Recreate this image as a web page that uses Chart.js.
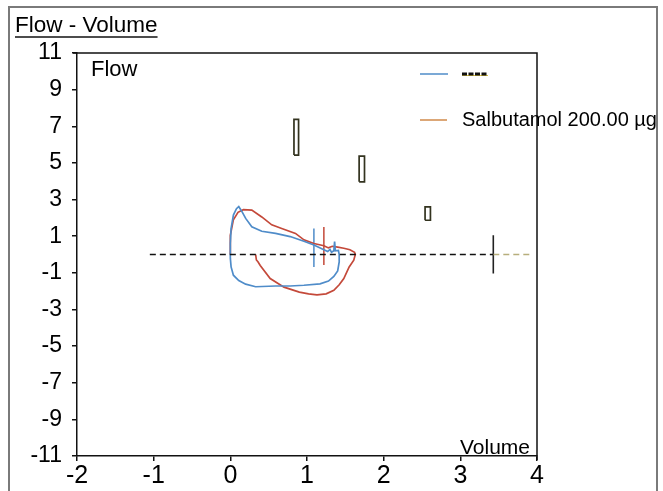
<!DOCTYPE html>
<html><head><meta charset="utf-8">
<script src="https://cdn.jsdelivr.net/npm/chart.js@4"></script>
<style>html,body{margin:0;padding:0;background:#fff;}#wrap{width:663px;height:491px;position:relative;}</style>
</head><body><div id="wrap"><canvas id="c" width="663" height="491"></canvas></div>
<script>
// ---- data ----
const xTicks = [-2, -1, 0, 1, 2, 3, 4];
const yTicks = [11, 9, 7, 5, 3, 1, -1, -3, -5, -7, -9, -11];

const chartTitle = 'Flow - Volume';
const yLabel = 'Flow';
const xLabel = 'Volume';
const legendLabel = 'Salbutamol 200.00 µg';

// baseline loop (blue)
const blueVolume = [0.00,0.00,0.01,0.04,0.08,0.11,0.15,0.20,0.28,0.41,0.59,0.78,0.96,1.09,1.22,1.27,1.30,1.32,1.35,1.36,1.37,1.41,1.42,1.42,1.40,1.35,1.28,1.17,0.96,0.78,0.59,0.33,0.20,0.11,0.04,0.01,0.00,0.00];
const blueFlow   = [0.00,0.60,1.42,2.15,2.50,2.62,2.35,1.97,1.51,1.27,1.15,0.98,0.72,0.52,0.26,0.16,0.28,0.12,0.20,0.70,0.20,0.22,0.00,-0.40,-0.90,-1.20,-1.45,-1.60,-1.68,-1.72,-1.72,-1.76,-1.62,-1.42,-1.13,-0.68,-0.20,0.00];

// post-salbutamol loop (red)
const redVolume = [0.00,0.00,0.04,0.10,0.17,0.28,0.41,0.54,0.67,0.85,0.96,1.09,1.22,1.28,1.33,1.40,1.48,1.56,1.62,1.63,1.61,1.55,1.48,1.42,1.35,1.25,1.13,1.02,0.90,0.70,0.52,0.39,0.36,0.34,0.33];
const redFlow   = [0.00,1.05,1.90,2.30,2.45,2.42,2.05,1.62,1.42,1.15,0.80,0.60,0.48,0.36,0.45,0.40,0.34,0.26,0.12,0.00,-0.31,-0.68,-1.31,-1.65,-1.95,-2.15,-2.20,-2.15,-2.05,-1.78,-1.31,-0.60,-0.40,-0.30,0.00];

// vertical markers
const blueMarkVolume = 1.09, blueMarkFlow = [1.42, -0.68];
const redMarkVolume = 1.22, redMarkFlow = [1.50, -0.58];
const endMarkVolume = 3.43, endMarkFlow = [1.05, -1.04];

// zero flow line
const zeroLineVolume = [-1.05, 3.43, 3.95];

// predicted boxes
const predVolMin  = [0.83, 1.68, 2.54];
const predVolMax  = [0.89, 1.75, 2.61];
const predFlowMin = [5.43, 3.97, 1.87];
const predFlowMax = [7.38, 5.37, 2.60];

// ---- build datasets ----
const pts = (xs, ys) => xs.map((x, i) => ({x, y: ys[i]}));
const BLUE = '#4f8cc9', RED = '#c4493a', ORANGE = '#d08a4a';
const line = (data, color, width, dash) => ({data, borderColor: color, borderWidth: width, borderDash: dash || [], showLine: true, pointRadius: 0, fill: false, tension: 0});

const datasets = [
  line([{x: zeroLineVolume[0], y: 0}, {x: zeroLineVolume[1], y: 0}], '#111', 1.5, [6, 4]),
  line([{x: zeroLineVolume[1], y: 0}, {x: zeroLineVolume[2], y: 0}], '#b7ae7c', 1.5, [6, 4]),
  line(pts(blueVolume, blueFlow), BLUE, 1.7),
  line(pts(redVolume, redFlow), RED, 1.7),
  line([{x: blueMarkVolume, y: blueMarkFlow[0]}, {x: blueMarkVolume, y: blueMarkFlow[1]}], BLUE, 1.5),
  line([{x: redMarkVolume, y: redMarkFlow[0]}, {x: redMarkVolume, y: redMarkFlow[1]}], RED, 1.5),
  line([{x: endMarkVolume, y: endMarkFlow[0]}, {x: endMarkVolume, y: endMarkFlow[1]}], '#222', 1.6),
];
predVolMin.forEach((v0, i) => {
  const v1 = predVolMax[i], f0 = predFlowMin[i], f1 = predFlowMax[i];
  datasets.push(line([{x: v0, y: f0}, {x: v1, y: f0}, {x: v1, y: f1}, {x: v0, y: f1}, {x: v0, y: f0}], '#33331f', 1.7));
});

const FONT = "'Liberation Sans', Arial, sans-serif";

const deco = {
  id: 'deco',
  afterDraw(chart) {
    const c = chart.ctx, ca = chart.chartArea;
    c.save();
    // outer frame
    c.strokeStyle = '#7a7a7a'; c.lineWidth = 2;
    c.strokeRect(9, 7, 648, 500);
    // plot top and right border
    c.strokeStyle = '#111'; c.lineWidth = 1.5;
    c.beginPath();
    c.moveTo(ca.left - 4, ca.top); c.lineTo(ca.right, ca.top); c.lineTo(ca.right, ca.bottom + 4);
    c.stroke();
    // title with underline
    c.fillStyle = '#000';
    c.font = '22.5px ' + FONT; c.textBaseline = 'alphabetic'; c.textAlign = 'left';
    c.fillText(chartTitle, 15, 32);
    const tw = c.measureText(chartTitle).width;
    c.lineWidth = 1.5; c.beginPath(); c.moveTo(15, 37); c.lineTo(15 + tw, 37); c.stroke();
    // axis labels inside plot
    c.font = '22px ' + FONT;
    c.fillText(yLabel, ca.left + 14, ca.top + 23);
    c.font = '21px ' + FONT; c.textAlign = 'right';
    c.fillText(xLabel, ca.right - 7, ca.bottom - 2);
    // legend
    const lx = ca.right - 117, ly1 = ca.top + 21, ly2 = ca.top + 67;
    c.lineWidth = 1.5; c.strokeStyle = BLUE;
    c.beginPath(); c.moveTo(lx, ly1); c.lineTo(lx + 28, ly1); c.stroke();
    c.strokeStyle = '#d8c040'; c.lineWidth = 1;
    c.beginPath(); c.moveTo(lx + 42, ly1 + 1.5); c.lineTo(lx + 68, ly1 + 1.5); c.stroke();
    c.strokeStyle = '#111'; c.lineWidth = 3; c.setLineDash([5, 1.5]);
    c.beginPath(); c.moveTo(lx + 42, ly1); c.lineTo(lx + 68, ly1); c.stroke();
    c.setLineDash([]);
    c.strokeStyle = ORANGE; c.lineWidth = 1.5;
    c.beginPath(); c.moveTo(lx, ly2); c.lineTo(lx + 27, ly2); c.stroke();
    c.font = '20px ' + FONT; c.textAlign = 'left'; c.textBaseline = 'alphabetic'; c.fillStyle = '#000';
    c.fillText(legendLabel, lx + 42, ly2 + 6);
    c.restore();
  }
};

new Chart(document.getElementById('c'), {
  type: 'scatter',
  data: {datasets},
  options: {
    responsive: false, animation: false, devicePixelRatio: 1,
    layout: {padding: {left: 0, right: 126, top: 53, bottom: 0}},
    plugins: {legend: {display: false}, tooltip: {enabled: false}, title: {display: false}},
    scales: {
      x: {
        type: 'linear', min: xTicks[0], max: xTicks[xTicks.length - 1],
        afterBuildTicks: s => { s.ticks = xTicks.map(v => ({value: v})); },
        afterFit: s => { s.height = 35; },
        grid: {display: true, drawOnChartArea: false, drawTicks: true, tickLength: 5, color: '#111', lineWidth: 1.5},
        border: {display: true, color: '#111', width: 1.5},
        ticks: {color: '#000', font: {family: FONT, size: 25}, padding: 0, maxRotation: 0, autoSkip: false}
      },
      y: {
        type: 'linear', min: -11, max: 11,
        afterBuildTicks: s => { s.ticks = yTicks.map(v => ({value: v})).sort((a, b) => a.value - b.value); },
        afterFit: s => { s.width = 77; },
        grid: {display: true, drawOnChartArea: false, drawTicks: true, tickLength: 5, color: '#111', lineWidth: 1.5},
        border: {display: true, color: '#111', width: 1.5},
        ticks: {color: '#000', font: {family: FONT, size: 23}, padding: 10, autoSkip: false}
      }
    }
  },
  plugins: [deco]
});
</script>
</body></html>
